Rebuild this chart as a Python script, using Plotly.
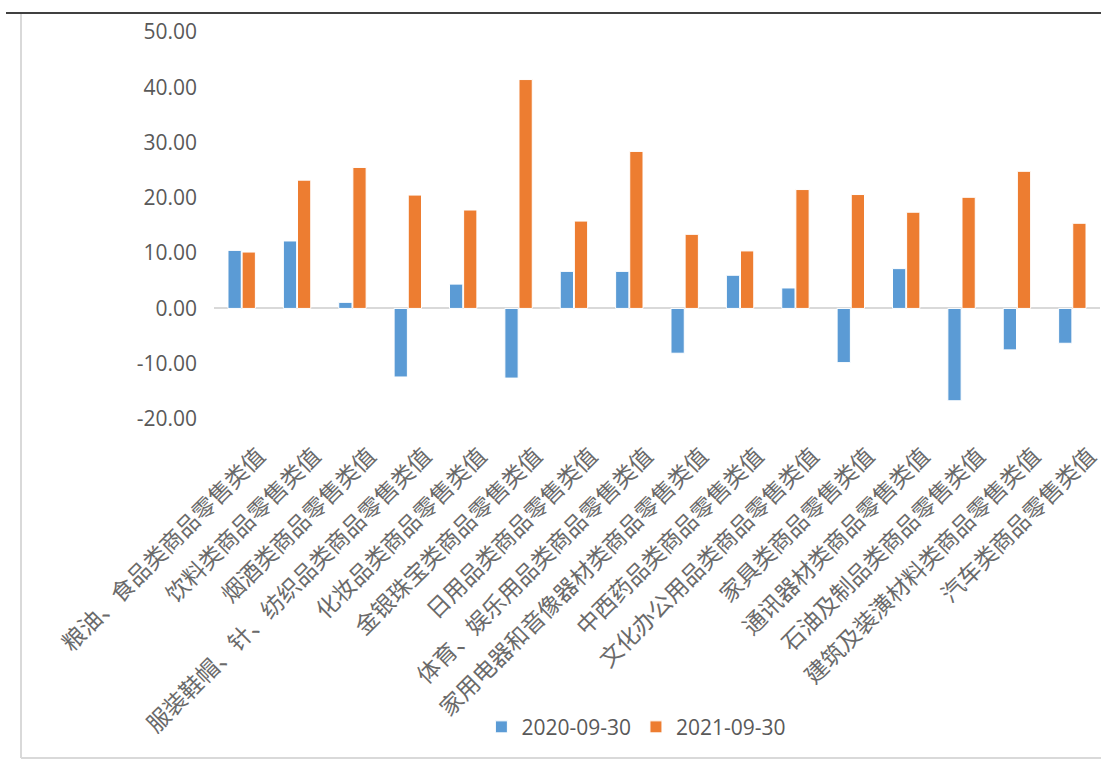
import plotly.graph_objects as go

categories = [
    "粮油、食品类商品零售类值",
    "饮料类商品零售类值",
    "烟酒类商品零售类值",
    "服装鞋帽、针、纺织品类商品零售类值",
    "化妆品类商品零售类值",
    "金银珠宝类商品零售类值",
    "日用品类商品零售类值",
    "体育、娱乐用品类商品零售类值",
    "家用电器和音像器材类商品零售类值",
    "中西药品类商品零售类值",
    "文化办公用品类商品零售类值",
    "家具类商品零售类值",
    "通讯器材类商品零售类值",
    "石油及制品类商品零售类值",
    "建筑及装潢材料类商品零售类值",
    "汽车类商品零售类值",
]
values_2020 = [10.5, 12.2, 1.1, -12.4, 4.4, -12.6, 6.7, 6.7, -8.1, 6.0, 3.7, -9.8, 7.2, -16.7, -7.5, -6.3]
values_2021 = [10.2, 23.2, 25.5, 20.5, 17.8, 41.4, 15.8, 28.4, 13.4, 10.4, 21.5, 20.6, 17.4, 20.1, 24.8, 15.4]
series_names = ["2020-09-30", "2021-09-30"]
y_ticks = [-20, -10, 0, 10, 20, 30, 40, 50]
y_tick_labels = ["-20.00", "-10.00", "0.00", "10.00", "20.00", "30.00", "40.00", "50.00"]

fig = go.Figure()
fig.add_trace(go.Bar(x=categories, y=values_2020, name=series_names[0],
                     marker=dict(color="#5B9BD5", line=dict(color="white", width=1))))
fig.add_trace(go.Bar(x=categories, y=values_2021, name=series_names[1],
                     marker=dict(color="#ED7D31", line=dict(color="white", width=1))))

L, R, T, B = 214, 1, 32, 353
W, H = 1101, 772
pw = W - L - R
ph = H - T - B

def px(p):
    return (p - L) / pw

def py(q):
    return (H - B - q) / ph

shapes = [
    dict(type="line", xref="paper", yref="paper", x0=px(21), x1=px(1110), y0=py(758), y1=py(758),
         line=dict(color="#d9d9d9", width=2)),
    dict(type="line", xref="paper", yref="paper", x0=px(21), x1=px(21), y0=py(758), y1=py(13),
         line=dict(color="#d9d9d9", width=2)),
    dict(type="line", xref="paper", yref="paper", x0=px(6), x1=px(1110), y0=py(13), y1=py(13),
         line=dict(color="#404040", width=2)),
]

fig.update_layout(
    width=W, height=H,
    margin=dict(l=L, r=R, t=T, b=B, autoexpand=False),
    paper_bgcolor="white", plot_bgcolor="white",
    barmode="group", bargap=0.49, bargroupgap=0.06,
    showlegend=True,
    legend=dict(orientation="h", xref="container", yref="container",
                x=0.578, y=0.058, xanchor="center", yanchor="middle",
                font=dict(family="Open Sans", size=21, color="#595959"),
                itemwidth=30, traceorder="normal"),
    shapes=shapes,
    xaxis=dict(showline=False, showgrid=False, ticks="", tickangle=-45,
               tickfont=dict(family="Noto Sans CJK SC", size=23, color="#6a6a6a"),
               automargin=False, ticklabelstandoff=18, ticklabelshift=17),
    yaxis=dict(range=[-20, 50], tickvals=y_ticks, ticktext=y_tick_labels, showgrid=False,
               showline=False, zeroline=True, zerolinecolor="#d9d9d9", zerolinewidth=2,
               tickfont=dict(family="Open Sans", size=21, color="#595959"),
               automargin=False, ticklabelstandoff=16),
)

fig.write_html("out.html", config={"displayModeBar": False},
               post_script="document.body.style.margin='0';document.body.style.overflow='hidden';")
